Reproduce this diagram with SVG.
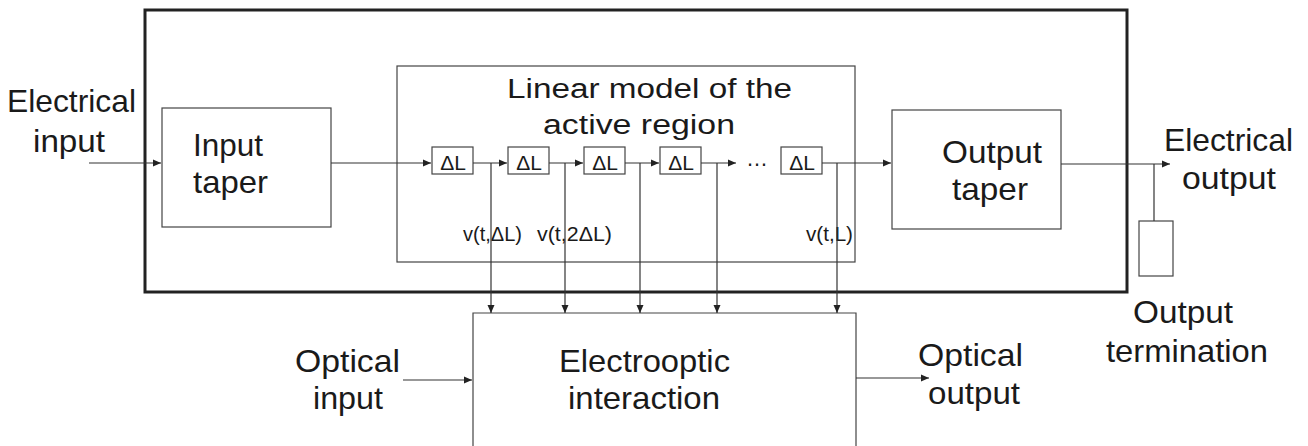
<svg xmlns="http://www.w3.org/2000/svg" width="1308" height="446" viewBox="0 0 1308 446">
<style>
text{font-family:"Liberation Sans",Arial,sans-serif;fill:#1a1a1a}
.lbl{font-size:32px}
.ttl{font-size:27px}
.sm{font-size:20px}
.dl{font-size:21px;text-anchor:middle}
.box{fill:none;stroke:#444;stroke-width:1.2}
.outer{fill:none;stroke:#222;stroke-width:3}
.con{fill:none;stroke:#333;stroke-width:1.2}
.arr{marker-end:url(#ah)}
</style>
<defs>
<marker id="ah" markerUnits="userSpaceOnUse" markerWidth="9" markerHeight="8" refX="8" refY="4" orient="auto">
<path d="M0,0.5 L8,4 L0,7.5 Z" fill="#222"/>
</marker>
</defs>
<rect width="1308" height="446" fill="#fff"/>

<g id="outer-box"><rect class="outer" x="145" y="10" width="982" height="282"/></g>

<g id="input-taper">
<rect class="box" x="162" y="108" width="169" height="119"/>
<text class="lbl" x="193" y="156" textLength="70" lengthAdjust="spacingAndGlyphs">Input</text>
<text class="lbl" x="193" y="193" textLength="75" lengthAdjust="spacingAndGlyphs">taper</text>
</g>

<g id="linear-model">
<rect class="box" x="397" y="66" width="458" height="196"/>
<text class="ttl" x="507" y="98" textLength="285" lengthAdjust="spacingAndGlyphs">Linear model of the</text>
<text class="ttl" x="543" y="134" textLength="192" lengthAdjust="spacingAndGlyphs">active region</text>
</g>

<g id="dl1"><rect class="box" x="432" y="147" width="41" height="27"/><text class="dl" x="453" y="170">ΔL</text></g>
<g id="dl2"><rect class="box" x="508" y="147" width="41" height="27"/><text class="dl" x="529" y="170">ΔL</text></g>
<g id="dl3"><rect class="box" x="584" y="147" width="41" height="27"/><text class="dl" x="605" y="170">ΔL</text></g>
<g id="dl4"><rect class="box" x="660" y="147" width="41" height="27"/><text class="dl" x="681" y="170">ΔL</text></g>
<g id="dots"><text x="757" y="165.5" style="font-size:22px;text-anchor:middle">…</text></g>
<g id="dl5"><rect class="box" x="781" y="147" width="41" height="27"/><text class="dl" x="802" y="170">ΔL</text></g>

<g id="output-taper">
<rect class="box" x="892" y="110" width="169" height="119"/>
<text class="lbl" x="942" y="163" textLength="100" lengthAdjust="spacingAndGlyphs">Output</text>
<text class="lbl" x="952" y="200" textLength="76" lengthAdjust="spacingAndGlyphs">taper</text>
</g>

<g id="termination">
<rect class="box" x="1139" y="221" width="34" height="55"/>
<text class="lbl" x="1133" y="323" textLength="100" lengthAdjust="spacingAndGlyphs">Output</text>
<text class="lbl" x="1106" y="362" textLength="162" lengthAdjust="spacingAndGlyphs">termination</text>
</g>

<g id="electrooptic">
<path class="box" d="M473,450 V313 H856 V450"/>
<text class="lbl" x="559" y="372" textLength="171" lengthAdjust="spacingAndGlyphs">Electrooptic</text>
<text class="lbl" x="568" y="409" textLength="152" lengthAdjust="spacingAndGlyphs">interaction</text>
</g>

<g id="labels">
<text class="lbl" x="7" y="112" textLength="129" lengthAdjust="spacingAndGlyphs">Electrical</text>
<text class="lbl" x="33" y="152" textLength="72" lengthAdjust="spacingAndGlyphs">input</text>
<text class="lbl" x="1164" y="151" textLength="129" lengthAdjust="spacingAndGlyphs">Electrical</text>
<text class="lbl" x="1182" y="189" textLength="94" lengthAdjust="spacingAndGlyphs">output</text>
<text class="lbl" x="295" y="372" textLength="105" lengthAdjust="spacingAndGlyphs">Optical</text>
<text class="lbl" x="313" y="409" textLength="70" lengthAdjust="spacingAndGlyphs">input</text>
<text class="lbl" x="918" y="366" textLength="105" lengthAdjust="spacingAndGlyphs">Optical</text>
<text class="lbl" x="928" y="404" textLength="92" lengthAdjust="spacingAndGlyphs">output</text>
<text class="sm" x="463" y="241" textLength="59" lengthAdjust="spacingAndGlyphs">v(t,ΔL)</text>
<text class="sm" x="537" y="241" textLength="75" lengthAdjust="spacingAndGlyphs">v(t,2ΔL)</text>
<text class="sm" x="806" y="241" textLength="47" lengthAdjust="spacingAndGlyphs">v(t,L)</text>
</g>

<g id="connectors">
<line class="con arr" x1="89" y1="163" x2="161" y2="163"/>
<line class="con arr" x1="331" y1="163" x2="431" y2="163"/>
<line class="con arr" x1="473" y1="163" x2="507" y2="163"/>
<line class="con arr" x1="549" y1="163" x2="583" y2="163"/>
<line class="con arr" x1="625" y1="163" x2="659" y2="163"/>
<line class="con arr" x1="701" y1="163" x2="736" y2="163"/>
<line class="con arr" x1="822" y1="163" x2="891" y2="163"/>
<line class="con arr" x1="1061" y1="164" x2="1170" y2="164"/>
<line class="con" x1="1154" y1="164" x2="1154" y2="221"/>
<line class="con arr" x1="491" y1="163" x2="491" y2="313"/>
<line class="con arr" x1="565" y1="163" x2="565" y2="313"/>
<line class="con arr" x1="640" y1="163" x2="640" y2="313"/>
<line class="con arr" x1="717" y1="163" x2="717" y2="313"/>
<line class="con arr" x1="837" y1="163" x2="837" y2="313"/>
<line class="con arr" x1="403" y1="380" x2="472" y2="380"/>
<line class="con arr" x1="856" y1="378" x2="929" y2="378"/>
</g>
</svg>
